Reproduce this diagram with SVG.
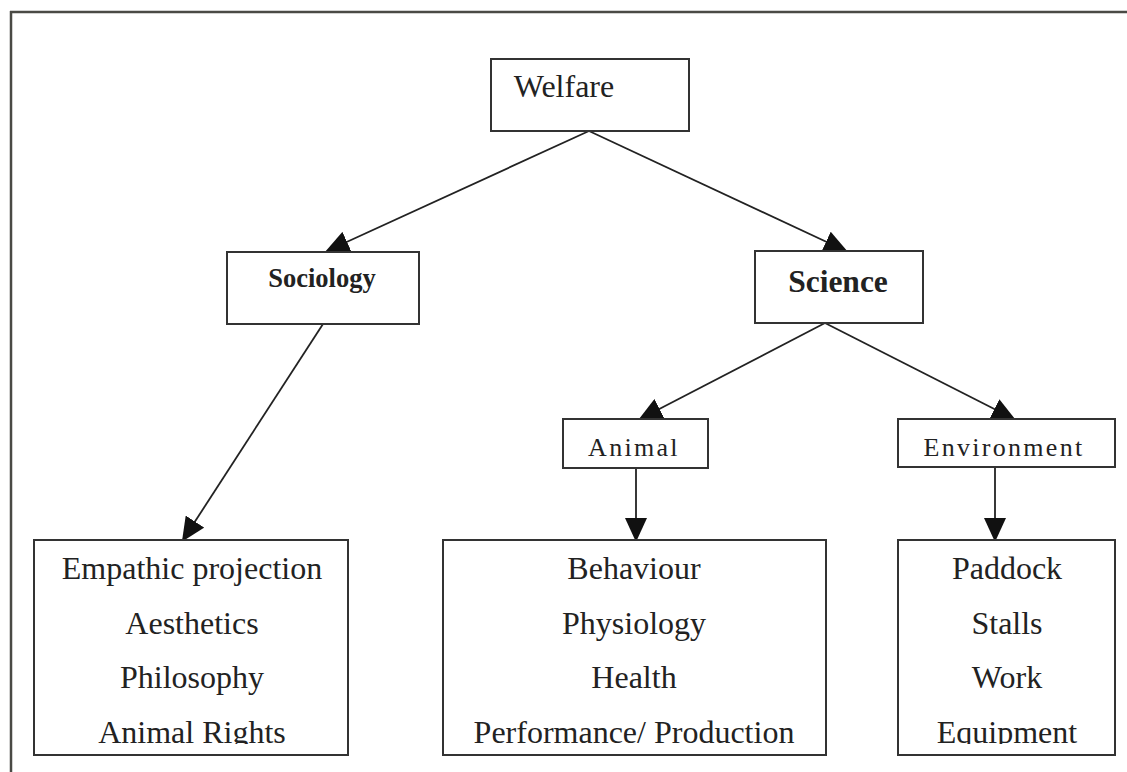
<svg xmlns="http://www.w3.org/2000/svg" width="1127" height="772" viewBox="0 0 1127 772">
<style>
.box{fill:#fff;stroke:#333;stroke-width:2}
.t{font-family:"Liberation Serif","Times New Roman",serif;fill:#222;text-anchor:middle}
.list{font-size:32px}
.mid{font-size:26px;letter-spacing:2.3px}
.conn line{stroke:#222;stroke-width:1.8}
</style>
<defs>
<marker id="ah" markerUnits="userSpaceOnUse" markerWidth="24" markerHeight="22" viewBox="0 0 24 22" refX="22" refY="11" orient="auto">
<path d="M0,0 L24,11 L0,22 Z" fill="#111"/>
</marker>
<clipPath id="c1"><rect x="34" y="540" width="314" height="204"/></clipPath>
<clipPath id="c2"><rect x="443" y="540" width="383" height="204"/></clipPath>
<clipPath id="c3"><rect x="898" y="540" width="217" height="204"/></clipPath>
<clipPath id="c4"><rect x="898" y="419" width="217" height="39"/></clipPath>
</defs>
<rect width="1127" height="772" fill="#fff"/>
<g id="frame" stroke="#4a4a45" stroke-width="2.5" fill="none">
<line x1="10" y1="12" x2="1127" y2="12"/>
<line x1="11" y1="11" x2="11" y2="772"/>
</g>
<g class="conn" id="connectors">
<line x1="589" y1="131" x2="327" y2="251" marker-end="url(#ah)"/>
<line x1="589" y1="131" x2="846" y2="251" marker-end="url(#ah)"/>
<line x1="323" y1="324" x2="183" y2="540" marker-end="url(#ah)"/>
<line x1="825" y1="323" x2="640" y2="419" marker-end="url(#ah)"/>
<line x1="825" y1="323" x2="1014" y2="419" marker-end="url(#ah)"/>
<line x1="636" y1="468" x2="636" y2="540" marker-end="url(#ah)"/>
<line x1="995" y1="467" x2="995" y2="540" marker-end="url(#ah)"/>
</g>
<g id="welfare">
<rect class="box" x="491" y="59" width="198" height="72"/>
<text class="t" x="564" y="97" font-size="32">Welfare</text>
</g>
<g id="sociology">
<rect class="box" x="227" y="252" width="192" height="72"/>
<text class="t" x="322" y="287" font-size="26.5" font-weight="bold">Sociology</text>
</g>
<g id="science">
<rect class="box" x="755" y="251" width="168" height="72"/>
<text class="t" x="838" y="292" font-size="31.5" font-weight="bold">Science</text>
</g>
<g id="animal">
<rect class="box" x="563" y="419" width="145" height="49"/>
<text class="t mid" x="634" y="456">Animal</text>
</g>
<g id="environment">
<rect class="box" x="898" y="419" width="217" height="48"/>
<text class="t mid" x="1004" y="456" clip-path="url(#c4)">Environment</text>
</g>
<g id="sociology-list">
<rect class="box" x="34" y="540" width="314" height="215"/>
<g clip-path="url(#c1)">
<text class="t list" x="192" y="579">Empathic projection</text>
<text class="t list" x="192" y="634">Aesthetics</text>
<text class="t list" x="192" y="688">Philosophy</text>
<text class="t list" x="192" y="743">Animal Rights</text>
</g>
</g>
<g id="animal-list">
<rect class="box" x="443" y="540" width="383" height="215"/>
<g clip-path="url(#c2)">
<text class="t list" x="634" y="579">Behaviour</text>
<text class="t list" x="634" y="634">Physiology</text>
<text class="t list" x="634" y="688">Health</text>
<text class="t list" x="634" y="743">Performance/ Production</text>
</g>
</g>
<g id="environment-list">
<rect class="box" x="898" y="540" width="217" height="215"/>
<g clip-path="url(#c3)">
<text class="t list" x="1007" y="579">Paddock</text>
<text class="t list" x="1007" y="634">Stalls</text>
<text class="t list" x="1007" y="688">Work</text>
<text class="t list" x="1007" y="743">Equipment</text>
</g>
</g>
</svg>
